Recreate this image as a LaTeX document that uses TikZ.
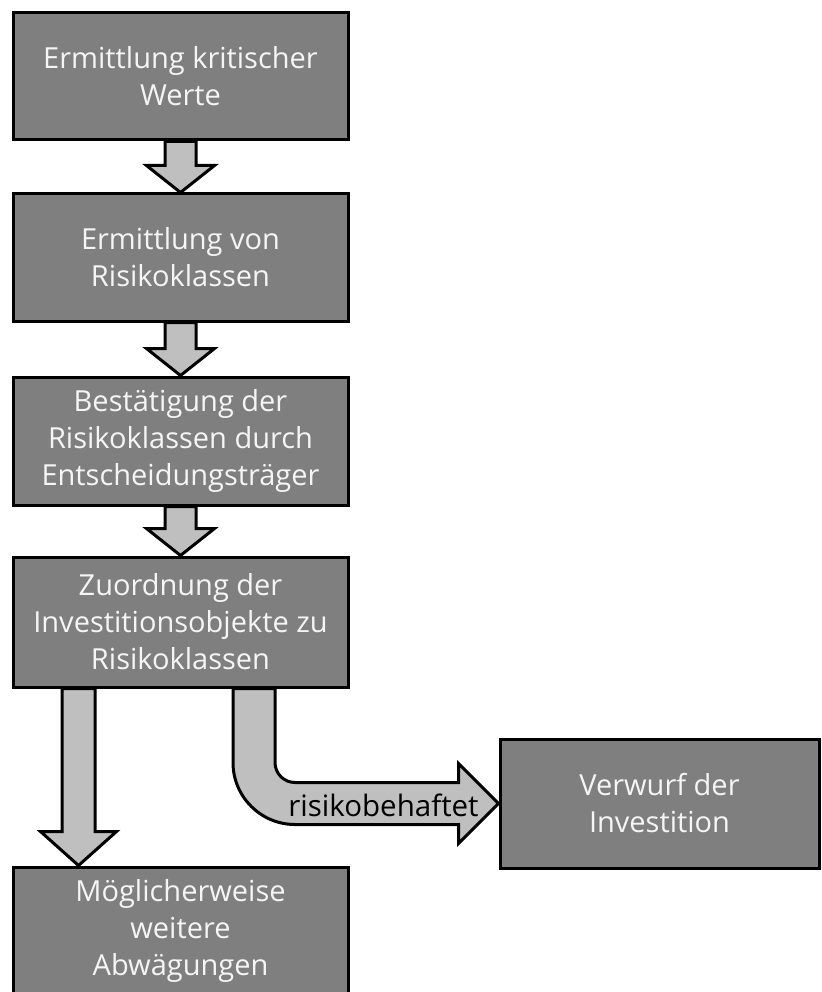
\documentclass[tikz,border=0pt]{standalone}
\usepackage{fontspec}
\setmainfont{Open Sans}
\usetikzlibrary{calc,backgrounds}

\definecolor{boxgray}{HTML}{7F7F7F}
\definecolor{arrowgray}{HTML}{BFBFBF}
\definecolor{boxtext}{HTML}{F5F5F5}

\tikzset{
  stepbox/.style={draw=black, line width=3pt, fill=boxgray, text=boxtext,
    minimum width=335pt, align=center, inner sep=0pt,
    font=\fontsize{29}{37}\selectfont},
  blockarrow/.style={draw=black, line width=3pt, fill=arrowgray, line join=miter},
  arrowlabel/.style={text=black, inner sep=0pt, font=\fontsize{29.5}{37}\selectfont}
}

% straight block arrow: start point, end point (tip), shaft half width,
% head half width, head length
\newcommand\flowarrow[5]{%
  \draw[blockarrow] let \p1=#1, \p2=#2 in
    (\x1-#3pt,\y1) -- (\x1-#3pt,\y2+#5pt) -- (\x1-#4pt,\y2+#5pt) --
    (\x1,\y2) -- (\x1+#4pt,\y2+#5pt) -- (\x1+#3pt,\y2+#5pt) --
    (\x1+#3pt,\y1) -- cycle;}

\begin{document}
\begin{tikzpicture}[x=1pt,y=-1pt]
\useasboundingbox (0,0) rectangle (821,992);
\clip (0,0) rectangle (821,992);

\node[stepbox, minimum height=127pt] (b1) at (180.5,76.5)
  {Ermittlung kritischer\\Werte};
\node[stepbox, minimum height=127pt] (b2) at (180.5,257.5)
  {Ermittlung von\\Risikoklassen};
\node[stepbox, minimum height=128pt] (b3) at (180.5,441)
  {Bestätigung der\\Risikoklassen durch\\Entscheidungsträger};
\node[stepbox, minimum height=130pt] (b4) at (180.5,622)
  {Zuordnung der\\Investitionsobjekte zu\\Risikoklassen};
\node[stepbox, minimum height=127pt] (b5) at (180.5,930.5)
  {Möglicherweise\\weitere\\Abwägungen};
\node[stepbox, minimum width=319pt, minimum height=129pt] (r) at (659.5,803.5)
  {Verwurf der\\Investition};

\begin{scope}[on background layer]
  \flowarrow{(b1.south)}{(b2.north)}{15.5}{34}{27}
  \flowarrow{(b2.south)}{(b3.north)}{15.5}{34}{27}
  \flowarrow{(b3.south)}{(b4.north)}{15.5}{34}{27}
  \flowarrow{($(b4.south)+(-102,0)$)}{(b5.north)}{16.5}{38}{34}

  % bent arrow from the classification step to the rejection box
  \draw[blockarrow] let \p1=(b4.south), \p2=(r.west) in
    (\x1+52.5pt,\y1) -- (\x1+52.5pt,\y2+41pt)
    .. controls (\x1+52.5pt,\y2+6.76pt) and (\x1+80.26pt,\y2-21pt) ..
    (\x1+114.5pt,\y2-21pt) -- (\x2-40pt,\y2-21pt) -- (\x2-40pt,\y2-40pt) --
    (\x2,\y2) -- (\x2-40pt,\y2+40pt) -- (\x2-40pt,\y2+21pt) --
    (\x1+114.5pt,\y2+21pt)
    .. controls (\x1+103.45pt,\y2+21pt) and (\x1+94.5pt,\y2+29.95pt) ..
    (\x1+94.5pt,\y2+41pt) -- (\x1+94.5pt,\y1) -- cycle;
\end{scope}

\node[arrowlabel] (lbl) at ($(r.west)+(-115,2)$) {risikobehaftet};
\end{tikzpicture}
\end{document}
